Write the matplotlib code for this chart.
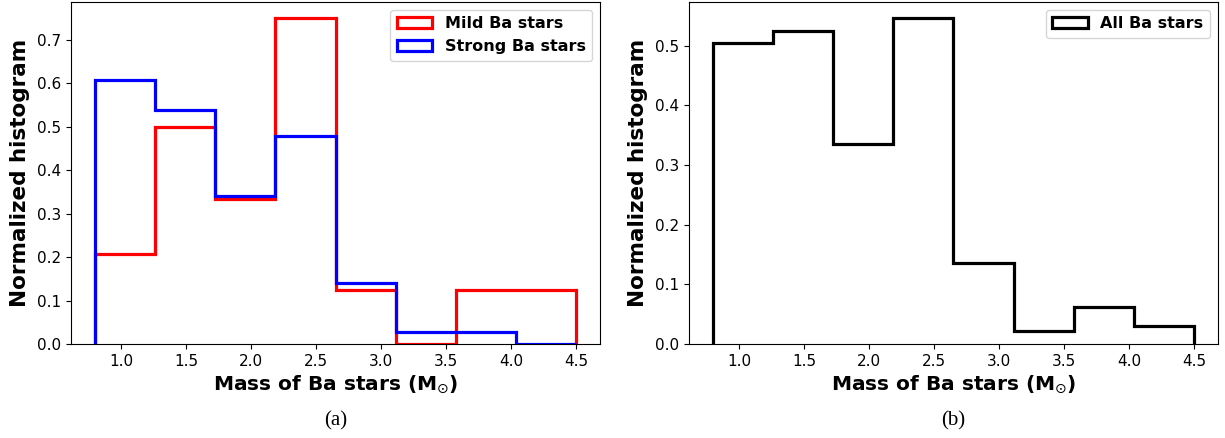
import numpy as np
import matplotlib
matplotlib.use("Agg")
import matplotlib.pyplot as plt

# bin edges of the mass histogram (8 bins between 0.8 and 4.5 Msun)
edges = np.linspace(0.8, 4.5, 9)
centers = (edges[:-1] + edges[1:]) / 2

mild = [0.208, 0.500, 0.334, 0.750, 0.125, 0.0, 0.125, 0.125]
strong = [0.608, 0.538, 0.340, 0.480, 0.140, 0.027, 0.027, 0.0]
all_ba = [0.504, 0.524, 0.335, 0.546, 0.136, 0.021, 0.062, 0.031]

xlabel = r"Mass of Ba stars (M$_{\odot}$)"
ylabel = "Normalized histogram"
lw = 2.3

fig = plt.figure(figsize=(12.25, 4.38), dpi=100)
ax1 = fig.add_axes([0.058, 0.2146, 0.4318, 0.7808])
ax2 = fig.add_axes([0.5624, 0.2146, 0.4318, 0.7808])

ax1.hist(centers, bins=edges, weights=mild, histtype="step", color="red",
         linewidth=lw, label="Mild Ba stars")
ax1.hist(centers, bins=edges, weights=strong, histtype="step", color="blue",
         linewidth=lw, label="Strong Ba stars")
ax2.hist(centers, bins=edges, weights=all_ba, histtype="step", color="black",
         linewidth=lw, label="All Ba stars")

for ax in (ax1, ax2):
    ax.set_xlabel(xlabel, fontsize=14.5, fontweight="bold", labelpad=3)
    ax.set_ylabel(ylabel, fontsize=15.5, fontweight="bold", labelpad=5)
    ax.tick_params(labelsize=11)
    ax.set_xticks([1.0, 1.5, 2.0, 2.5, 3.0, 3.5, 4.0, 4.5])
    ax.legend(loc="upper right", prop={"weight": "bold", "size": 11.5},
              handlelength=2.2)

serif = ["Liberation Serif", "DejaVu Serif"]
fig.text(0.274, 0.04, "(a)", fontsize=15, family=serif, ha="center", va="center")
fig.text(0.778, 0.04, "(b)", fontsize=15, family=serif, ha="center", va="center")

fig.savefig("out.png", dpi=100)
